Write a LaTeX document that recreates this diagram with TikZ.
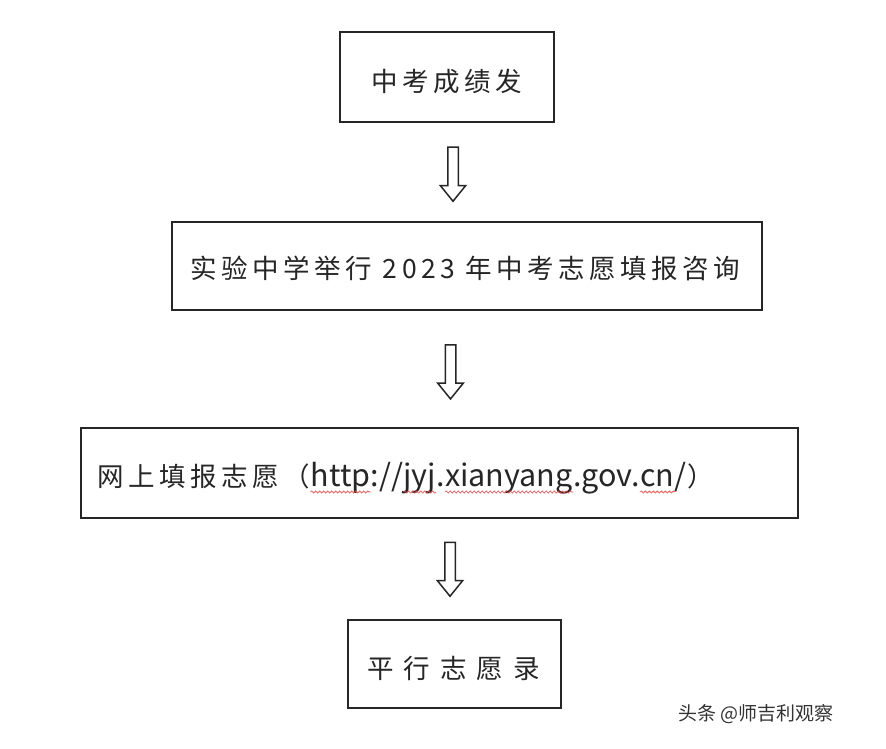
\documentclass[tikz,border=0pt]{standalone}
\usepackage{fontspec}
\setmainfont{Noto Sans CJK SC}
\newfontfamily\cjkA[LetterSpace=17]{Noto Sans CJK SC}
\newfontfamily\cjkB[LetterSpace=38]{Noto Sans CJK SC}
\newfontfamily\cjkC{Noto Sans CJK SC}
\usetikzlibrary{shapes.arrows,decorations.pathmorphing}
\begin{document}
\begin{tikzpicture}[x=1pt,y=-1pt,
  stepbox/.style={draw=black!85,line width=1.8pt,fill=white},
  blockarrow/.style={single arrow,draw=black!85,line width=1.5pt,fill=white,
    rotate=-90,minimum height=54pt,inner sep=4.5pt,
    single arrow head extend=7.5pt,single arrow tip angle=78},
  lbl/.style={font=\fontsize{26.5}{30}\selectfont\cjkA,text=black!85},
  urlpart/.style={font=\fontsize{30.5}{32}\selectfont\cjkC,text=black!85,
    inner sep=0pt,anchor=base west},
  wavy/.style={draw=red!75,line width=0.6pt,decorate,
    decoration={snake,amplitude=1.1pt,segment length=4pt}}]
\useasboundingbox[fill=white] (0,0) rectangle (886,748);
\draw[stepbox] (340,32) rectangle (554,122);
\draw[stepbox] (172,222) rectangle (762,310);
\draw[stepbox] (81,428) rectangle (798,518);
\draw[stepbox] (348,620) rectangle (561,708);
\node[lbl] (t1) at (446.5,81.5) {中考成绩发};
\node[lbl] (t2) at (465.5,268) {实验中学举行 2023 年中考志愿填报咨询};
% box 3 text, built from pieces
\node[lbl,inner sep=0pt,anchor=base west] (p0) at (97.5,486) {网上填报志愿（};
\node[urlpart] (u1) at (p0.base east) {http};
\node[urlpart] (u2) at (u1.base east) {://};
\node[urlpart] (u3) at (u2.base east) {jyj};
\node[urlpart] (u4) at (u3.base east) {.};
\node[urlpart] (u5) at (u4.base east) {xianyang};
\node[urlpart] (u6) at (u5.base east) {.gov.};
\node[urlpart] (u7) at (u6.base east) {cn};
\node[urlpart] (u8) at (u7.base east) {/};
\node[lbl,inner sep=0pt,anchor=base west,font=\fontsize{26.5}{30}\selectfont\cjkC] (p9) at (u8.base east) {）};
\foreach \u in {u1,u3,u5,u7}
  \draw[wavy] ([yshift=-6pt]\u.base west) -- ([yshift=-6pt]\u.base east);
\node[lbl,font=\fontsize{26.5}{30}\selectfont\cjkB] (t4) at (453.5,668.5) {平行志愿录};
\node[blockarrow] (a1) at (453,171) {};
\node[blockarrow] (a2) at (450.5,368.7) {};
\node[blockarrow] (a3) at (450,566) {};
\node[font=\fontsize{19}{22}\selectfont\cjkC,text=black!80] (wm) at (756,714) {头条 @师吉利观察};
\end{tikzpicture}
\end{document}
